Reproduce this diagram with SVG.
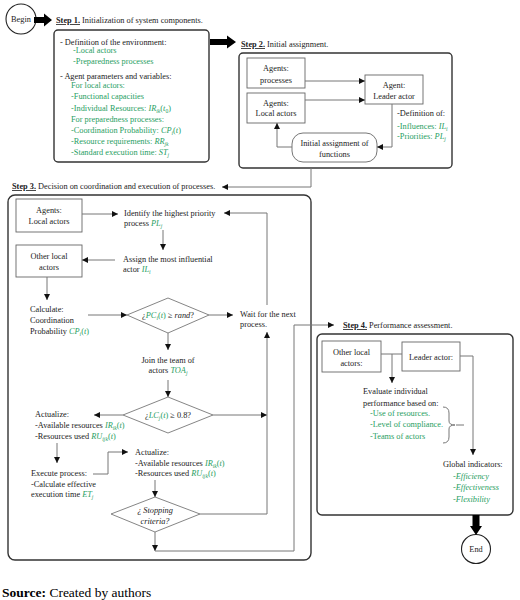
<svg xmlns="http://www.w3.org/2000/svg" width="520" height="600" viewBox="0 0 520 600">
<style>
text{font-family:"Liberation Serif","DejaVu Serif",serif;font-size:8.3px;fill:#222}
.g{fill:#1f9e62}
.m{font-style:italic}
.s{font-size:5.6px}
.c{text-anchor:middle}
.t{font-weight:bold;text-decoration:underline}
.step{fill:#fff;stroke:#333;stroke-width:1.4}
.box{fill:#fff;stroke:#666;stroke-width:0.9}
.dia{fill:#fff;stroke:#777;stroke-width:0.9}
.ln{fill:none;stroke:#777;stroke-width:1}
.ar{fill:none;stroke:#777;stroke-width:1;marker-end:url(#ah)}
.big{fill:#000}
.circ{fill:#fff;stroke:#222;stroke-width:1.1}
</style>
<defs>
<marker id="ah" markerUnits="userSpaceOnUse" markerWidth="7" markerHeight="7" refX="6" refY="3" orient="auto">
<path d="M0,0 L6,3 L0,6 z" fill="#111"/>
</marker>
</defs>
<rect width="520" height="600" fill="#fff"/>

<g id="begin">
<circle class="circ" cx="21" cy="19" r="15"/>
<text class="c" x="21" y="22">Begin</text>
</g>

<g id="step1">
<text x="56" y="23"><tspan class="t">Step 1.</tspan> Initialization of system components.</text>
<rect class="step" x="54" y="30" width="155" height="132" rx="4"/>
<text x="60" y="45">- Definition of the environment:</text>
<text class="g" x="73" y="53">-Local actors</text>
<text class="g" x="73" y="64">-Preparedness processes</text>
<text x="60" y="79">- Agent parameters and variables:</text>
<text class="g" x="71" y="88">For local actors:</text>
<text class="g" x="71" y="99">-Functional capacities</text>
<text class="g" x="71" y="111">-Individual Resources: <tspan class="m">IR</tspan><tspan class="s m" dy="1.8">ik</tspan><tspan dy="-1.8">(</tspan><tspan class="m">t</tspan><tspan class="s" dy="1.8">0</tspan><tspan dy="-1.8">)</tspan></text>
<text class="g" x="71" y="122">For preparedness processes:</text>
<text class="g" x="71" y="133">-Coordination Probability: <tspan class="m">CP</tspan><tspan class="s m" dy="1.8">i</tspan><tspan dy="-1.8">(</tspan><tspan class="m">t</tspan>)</text>
<text class="g" x="71" y="144">-Resource requirements: <tspan class="m">RR</tspan><tspan class="s m" dy="1.8">jk</tspan></text>
<text class="g" x="71" y="155">-Standard execution time: <tspan class="m">ST</tspan><tspan class="s m" dy="1.8">j</tspan></text>
</g>

<g id="step2">
<text x="241" y="47"><tspan class="t">Step 2.</tspan> Initial assignment.</text>
<rect class="step" x="239" y="53" width="213" height="115" rx="4"/>
</g>
<g id="s2-processes">
<rect class="box" x="247" y="58" width="58" height="30"/>
<text class="c" x="276" y="71">Agents:</text>
<text class="c" x="276" y="83">processes</text>
</g>
<g id="s2-local">
<rect class="box" x="247" y="93" width="58" height="30"/>
<text class="c" x="276" y="106">Agents:</text>
<text class="c" x="276" y="116">Local actors</text>
</g>
<g id="s2-leader">
<rect class="box" x="365" y="75" width="58" height="29"/>
<text class="c" x="394" y="88">Agent:</text>
<text class="c" x="394" y="99">Leader actor</text>
</g>
<g id="s2-definition">
<text x="397" y="116">-Definition of:</text>
<text class="g" x="397" y="129">-Influences: <tspan class="m">IL</tspan><tspan class="s m" dy="1.8">i</tspan></text>
<text class="g" x="397" y="139">-Priorities: <tspan class="m">PL</tspan><tspan class="s m" dy="1.8">j</tspan></text>
</g>
<g id="s2-initial">
<rect class="box" x="292" y="133" width="85" height="29" rx="11"/>
<text class="c" x="334.5" y="146">Initial assignment of</text>
<text class="c" x="334.5" y="157">functions</text>
</g>

<g id="step3">
<text x="12" y="189"><tspan class="t">Step 3.</tspan> Decision on coordination and execution of processes.</text>
<rect class="step" x="8" y="195" width="303" height="365" rx="7"/>
</g>
<g id="s3-agents">
<rect class="box" x="16" y="199" width="66" height="33"/>
<text class="c" x="49" y="213">Agents:</text>
<text class="c" x="49" y="224">Local actors</text>
</g>
<g id="s3-identify">
<text x="124" y="216">Identify the highest priority</text>
<text x="124" y="226">process <tspan class="g m">PL</tspan><tspan class="g s m" dy="1.8">j</tspan></text>
</g>
<g id="s3-other">
<rect class="box" x="16" y="245" width="66" height="32"/>
<text class="c" x="49" y="259">Other local</text>
<text class="c" x="49" y="270">actors</text>
</g>
<g id="s3-assign">
<text x="123" y="262">Assign the most influential</text>
<text x="123" y="272">actor <tspan class="g m">IL</tspan><tspan class="g s m" dy="1.8">i</tspan></text>
</g>
<g id="s3-calc">
<text x="30" y="312">Calculate:</text>
<text x="30" y="323">Coordination</text>
<text x="30" y="334">Probability <tspan class="g m">CP</tspan><tspan class="g s m" dy="1.8">i</tspan><tspan class="g" dy="-1.8">(</tspan><tspan class="g m">t</tspan><tspan class="g">)</tspan></text>
</g>
<g id="s3-pc">
<polygon class="dia" points="127,315 168,298 209,315 168,333"/>
<text class="c" x="168" y="318">¿<tspan class="g m">PC</tspan><tspan class="g s m" dy="1.8">i</tspan><tspan class="g" dy="-1.8">(</tspan><tspan class="g m">t</tspan><tspan class="g">)</tspan> ≥ <tspan class="m">rand</tspan>?</text>
</g>
<g id="s3-wait">
<text x="240" y="317">Wait for the next</text>
<text x="240" y="327">process.</text>
</g>
<g id="s3-join">
<text class="c" x="168" y="363">Join the team of</text>
<text class="c" x="168" y="373">actors <tspan class="g m">TOA</tspan><tspan class="g s m" dy="1.8">j</tspan></text>
</g>
<g id="s3-lc">
<polygon class="dia" points="123,415 168,397 213,415 168,433"/>
<text class="c" x="168" y="418">¿<tspan class="g m">LC</tspan><tspan class="g s m" dy="1.8">j</tspan><tspan class="g" dy="-1.8">(</tspan><tspan class="g m">t</tspan><tspan class="g">)</tspan> ≥ 0.8?</text>
</g>
<g id="s3-actualize1">
<text x="35" y="417">Actualize:</text>
<text x="35" y="428">-Available resources <tspan class="g m">IR</tspan><tspan class="g s m" dy="1.8">ik</tspan><tspan class="g" dy="-1.8">(</tspan><tspan class="g m">t</tspan><tspan class="g">)</tspan></text>
<text x="35" y="439">-Resources used <tspan class="g m">RU</tspan><tspan class="g s m" dy="1.8">ijk</tspan><tspan class="g" dy="-1.8">(</tspan><tspan class="g m">t</tspan><tspan class="g">)</tspan></text>
</g>
<g id="s3-execute">
<text x="31" y="476">Execute process:</text>
<text x="31" y="487">-Calculate effective</text>
<text x="31" y="497">execution time <tspan class="g m">ET</tspan><tspan class="g s m" dy="1.8">j</tspan></text>
</g>
<g id="s3-actualize2">
<text x="135" y="455">Actualize:</text>
<text x="135" y="466">-Available resources <tspan class="g m">IR</tspan><tspan class="g s m" dy="1.8">ik</tspan><tspan class="g" dy="-1.8">(</tspan><tspan class="g m">t</tspan><tspan class="g">)</tspan></text>
<text x="135" y="476">-Resources used <tspan class="g m">RU</tspan><tspan class="g s m" dy="1.8">ijk</tspan><tspan class="g" dy="-1.8">(</tspan><tspan class="g m">t</tspan><tspan class="g">)</tspan></text>
</g>
<g id="s3-stop">
<polygon class="dia" points="111,514 155,497 200,514 155,532"/>
<text class="c m" x="155" y="513">¿ Stopping</text>
<text class="c m" x="155" y="524">criteria?</text>
</g>

<g id="step4">
<text x="343" y="328"><tspan class="t">Step 4.</tspan> Performance assessment.</text>
<rect class="step" x="317" y="334" width="196" height="181" rx="5"/>
</g>
<g id="s4-other">
<rect class="box" x="322" y="341" width="59" height="31"/>
<text class="c" x="351.5" y="355">Other local</text>
<text class="c" x="351.5" y="366">actors:</text>
</g>
<g id="s4-leader">
<rect class="box" x="402" y="342" width="58" height="29"/>
<text class="c" x="431" y="360">Leader actor:</text>
</g>
<g id="s4-evaluate">
<text x="363" y="394">Evaluate individual</text>
<text x="363" y="406">performance based on:</text>
<text class="g" x="370" y="416">-Use of resources.</text>
<text class="g" x="370" y="427">-Level of compliance.</text>
<text class="g" x="370" y="439">-Teams of actors</text>
<path class="ln" d="M443,407 Q449,407 449,413 L449,421 Q449,425 455,425 Q449,425 449,429 L449,437 Q449,443 443,443"/>
</g>
<g id="s4-global">
<text x="443" y="467">Global indicators:</text>
<text class="g m" x="453" y="479">-Efficiency</text>
<text class="g m" x="453" y="490">-Effectiveness</text>
<text class="g m" x="453" y="502">-Flexibility</text>
</g>

<g id="end">
<circle class="circ" cx="476" cy="549" r="14.5"/>
<text class="c" x="476" y="552">End</text>
</g>

<g id="connectors">
<polygon class="big" points="34,17 44,17 44,13.5 52,20 44,26.5 44,23 34,23"/>
<polygon class="big" points="210,39 227,39 227,35.5 236,42 227,48.5 227,45 210,45"/>
<polygon class="big" points="472.5,515 479.5,515 479.5,526 482,526 476,535 470,526 472.5,526"/>
<path class="ar" d="M305,81 H365"/>
<path class="ar" d="M305,100 H365"/>
<path class="ar" d="M392,104 V147 H377"/>
<path class="ar" d="M292,147 H277 V123"/>
<path class="ar" d="M311,168 V187 H222"/>
<path class="ar" d="M82,214 H118"/>
<path class="ar" d="M163,230 V250"/>
<path class="ar" d="M115,260 H82"/>
<path class="ar" d="M47,277 V300"/>
<path class="ar" d="M88,315 H127"/>
<path class="ar" d="M209,315 H233"/>
<path class="ar" d="M267,305 V213 H224"/>
<path class="ar" d="M168,333 V350"/>
<path class="ar" d="M168,380 V397"/>
<path class="ar" d="M123,415 H94"/>
<path class="ar" d="M213,415 H267"/>
<path class="ar" d="M57,443 V463"/>
<path class="ar" d="M93,474 H108 V452 H128"/>
<path class="ar" d="M155,480 V497"/>
<path class="ar" d="M200,514 H267 V332"/>
<path class="ar" d="M155,532 V551"/>
<path class="ar" d="M155,551 H294 V325 H334"/>
<path class="ln" d="M381,354 H402"/>
<path class="ar" d="M392,354 V383"/>
<path class="ar" d="M460,356 H473 V455"/>
<path class="ln" d="M456,425 H464"/>
</g>

<text x="2" y="597" style="font-size:13.5px;fill:#000"><tspan font-weight="bold">Source:</tspan> Created by authors</text>
</svg>
